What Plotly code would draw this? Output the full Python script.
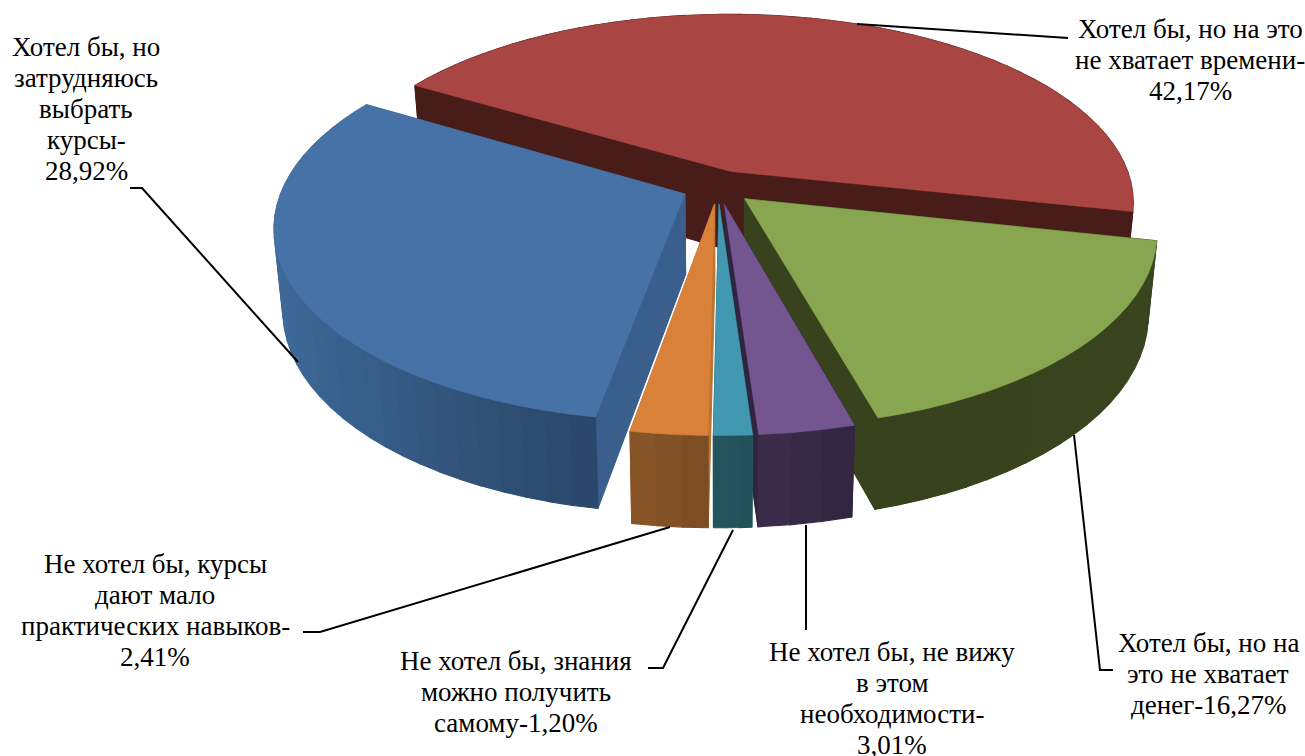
import math
import plotly.graph_objects as go

# ---- data ----
categories = ["Хотел бы, но на это не хватает времени",
              "Хотел бы, но на это не хватает денег",
              "Не хотел бы, не вижу в этом необходимости",
              "Не хотел бы, знания можно получить самому",
              "Не хотел бы, курсы дают мало практических навыков",
              "Хотел бы, но затрудняюсь выбрать курсы"]
values = [42.17, 16.27, 3.01, 1.20, 2.41, 28.92]
label_prefix = ["Хотел бы, но на это|не хватает времени-|",
                "Хотел бы, но на|это не хватает|денег-",
                "Не хотел бы, не вижу|в этом|необходимости-|",
                "Не хотел бы, знания|можно получить|самому-",
                "Не хотел бы, курсы|дают мало|практических навыков-|",
                "Хотел бы, но|затрудняюсь|выбрать|курсы-|"]

top_colors = ["#A94543", "#88A54F", "#735590", "#4298B0", "#D98039", "#4672A8"]
cut_colors = ["#471C19", "#38431E", "#30243F", "#225460", "#B87434", "#3A5F8C"]
wall_left = ["#471C19", "#37421D", "#3D2E4C", "#245660", "#885528", "#406C9C"]
wall_right = ["#471C19", "#3A4520", "#30243F", "#225058", "#7B4C22", "#2A4669"]

label_xy = [(1190, 29), (1208, 643), (892, 652), (516, 661), (155, 564), (86, 47)]
LINE_STEP = 31
leaders = [[(857, 24), (1068, 38)],
           [(1074, 435), (1100, 670), (1113, 670)],
           [(806, 525), (806, 630)],
           [(733, 530), (663, 668), (648, 668)],
           [(670, 527), (320, 632), (303, 632)],
           [(130, 188), (142, 188), (298, 362)]]

# ---- 3D pie projection ----
START = -59.3
EXPLODE = 0.09
CX, CY = 718.0, 187.0
A0, B0 = 402.0, 187.5
PERSP = 0.163
HEIGHT = 80.0
BOTTOM_K = 0.98


def project(x, y, bottom=False):
    s = 1 / (1 - PERSP * y)
    sx, sy = A0 * x * s, B0 * y * s
    if bottom:
        return CX + sx * BOTTOM_K, CY + sy * BOTTOM_K + HEIGHT * s
    return CX + sx, CY + sy


def mix(c1, c2, t):
    a = [int(c1[i:i + 2], 16) for i in (1, 3, 5)]
    b = [int(c2[i:i + 2], 16) for i in (1, 3, 5)]
    return "rgb(%d,%d,%d)" % tuple(round(p + (q - p) * t) for p, q in zip(a, b))


fig = go.Figure()


def poly(points, color, width=0.6):
    xs = [p[0] for p in points] + [points[0][0]]
    ys = [p[1] for p in points] + [points[0][1]]
    fig.add_trace(go.Scatter(x=xs, y=ys, mode="lines", fill="toself", fillcolor=color,
                             line=dict(color=color, width=width), hoverinfo="skip",
                             showlegend=False))


total = sum(values)
angle = START
for i, v in enumerate(values):
    span = v / total * 360
    t0, t1 = angle, angle + span
    angle = t1
    mid = math.radians((t0 + t1) / 2)
    ox, oy = EXPLODE * math.sin(mid), -EXPLODE * math.cos(mid)
    n = max(3, int(span / 3))
    rim = []
    for j in range(n + 1):
        th = math.radians(t0 + (t1 - t0) * j / n)
        rim.append((ox + math.sin(th), oy - math.cos(th)))
    faces = []
    for a, b in ((rim[0], (ox, oy)), ((ox, oy), rim[-1])):
        pts = [project(*a), project(*b), project(*b, True), project(*a, True)]
        faces.append((sum(p[1] for p in pts) / 4, pts, cut_colors[i]))
    wmin, wmax = min(p[0] for p in rim), max(p[0] for p in rim)
    for j in range(n):
        a, b = rim[j], rim[j + 1]
        pts = [project(*a), project(*b), project(*b, True), project(*a, True)]
        t = ((a[0] + b[0]) / 2 - wmin) / (wmax - wmin)
        faces.append((sum(p[1] for p in pts) / 4, pts, mix(wall_left[i], wall_right[i], t)))
    for _, pts, col in sorted(faces, key=lambda f: f[0]):
        poly(pts, col, 1.1)
    poly([project(ox, oy)] + [project(*p) for p in rim], top_colors[i])

for line in leaders:
    fig.add_trace(go.Scatter(x=[p[0] for p in line], y=[p[1] for p in line], mode="lines",
                             line=dict(color="black", width=2), hoverinfo="skip",
                             showlegend=False))

for prefix, v, (lx, ly) in zip(label_prefix, values, label_xy):
    text = prefix + ("%.2f" % v).replace(".", ",") + "%"
    for k, part in enumerate(text.split("|")):
        fig.add_annotation(x=lx, y=ly + k * LINE_STEP, text=part, showarrow=False,
                           xanchor="center", yanchor="middle",
                           font=dict(family="Liberation Serif", size=27, color="black"))

fig.update_layout(width=1305, height=756, margin=dict(l=0, r=0, t=0, b=0),
                  paper_bgcolor="white", plot_bgcolor="white", showlegend=False,
                  xaxis=dict(range=[0, 1305], visible=False),
                  yaxis=dict(range=[756, 0], visible=False))
fig.write_html("out.html", post_script="document.body.style.margin='0';document.body.style.overflow='hidden';",
               config={"displayModeBar": False})
